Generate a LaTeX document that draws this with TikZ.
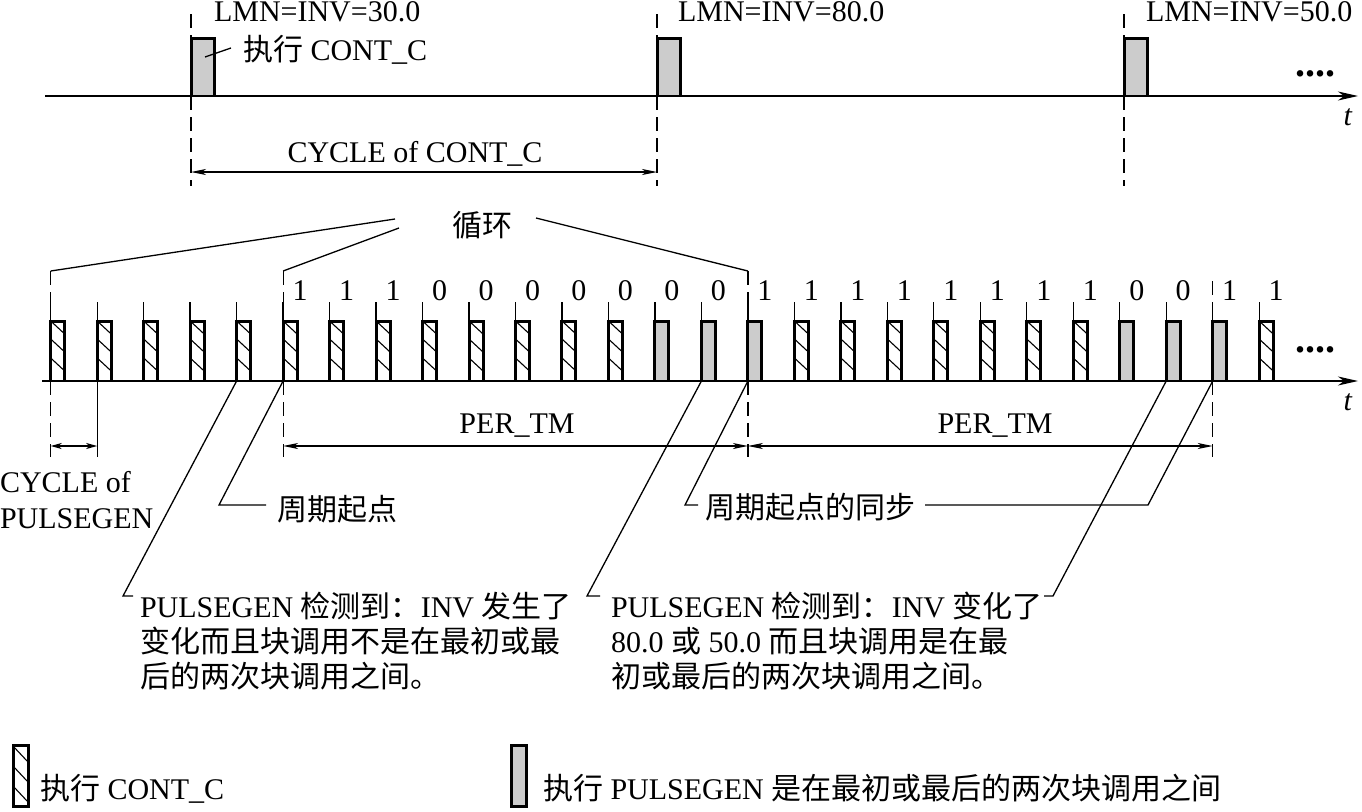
\documentclass[tikz,border=0pt]{standalone}
\usepackage{fontspec}
\setmainfont{Liberation Serif}
\newfontfamily\cjk{Noto Sans CJK SC}
\newcommand{\zh}[1]{{\cjk #1}}
\usetikzlibrary{arrows.meta}
\definecolor{pgray}{gray}{0.8}
\begin{document}
\begin{tikzpicture}[x=1pt,y=-1pt,
  font=\fontsize{30}{36}\selectfont,
  txt/.style={inner sep=0pt, outer sep=0pt, anchor=base west},
  ctxt/.style={inner sep=0pt, outer sep=0pt, anchor=base},
  dotstyle/.style={inner sep=0pt, outer sep=0pt, anchor=base, font=\fontsize{40}{40}\selectfont\bfseries},
  axisline/.style={line width=1.5pt, -{Stealth[length=20pt,width=9pt,inset=6pt]}},
  dim/.style={line width=1.2pt, {Stealth[length=15pt,width=6pt,inset=4pt]}-{Stealth[length=15pt,width=6pt,inset=4pt]}},
  smalldim/.style={line width=1.2pt, {Stealth[length=11pt,width=6pt,inset=3pt]}-{Stealth[length=11pt,width=6pt,inset=3pt]}},
  guide/.style={line width=1.2pt, dash pattern=on 14pt off 7pt},
  leadline/.style={line width=1.3pt},
  pedge/.style={line width=3pt, line join=miter},
  hatch/.style={line width=1.1pt},
]
\useasboundingbox (0,0) rectangle (1362,811);

% ---------- top timeline ----------
\foreach \n/\x in {0/191,1/657,2/1124}{
  \coordinate (q\n) at (\x,96);
  \fill[pgray] (\x,38) rectangle (\x+23,96);
  \draw[pedge] (\x,96) -- (\x,38) -- (\x+23,38) -- (\x+23,96);
  \draw[guide] (\x,14) -- (\x,38);
  \draw[guide] (\x,96) -- (\x,186);
}
\coordinate (ts) at (45,96);
\coordinate (te) at (1358,96);
\draw[axisline] (ts) -- (te);

\node[txt] (lmn0) at (214,21) {LMN=INV=30.0};
\node[txt] (lmn1) at (678,21) {LMN=INV=80.0};
\node[txt] (lmn2) at (1146,21) {LMN=INV=50.0};
\node[txt] (exec) at (243,60) {\zh{执行} CONT\_C};
\coordinate (execA) at (205,57);
\coordinate (execB) at (231,48);
\draw[leadline] (execA) -- (execB);
\node[dotstyle] (dots1) at (1315,76) {....};
\node[ctxt] (t1) at (1348,125) {\textit{t}};

\node[ctxt] (cyc) at (415,162) {CYCLE of CONT\_C};
\coordinate (cA) at (191,172);
\coordinate (cB) at (657,172);
\draw[dim] (cA) -- (cB);

% ---------- pulse train ----------
\foreach \i in {0,...,26}{
  \pgfmathsetmacro\px{50.7+46.48*\i}
  \coordinate (p\i) at (\px,381);
  \coordinate (u\i) at (\px,271);
  \coordinate (w\i) at (\px,446);
  \draw[leadline] (\px,302) -- (\px,321);
}
\foreach \i in {0,...,12,16,17,...,22,26}{
  \pgfmathsetmacro\px{50.7+46.48*\i}
  \begin{scope}
    \clip (\px,321) rectangle (\px+14,381);
    \foreach \k in {0,18,37}{ \draw[hatch] (\px,321+\k) -- ++(14,13); }
  \end{scope}
  \draw[pedge] (\px,381) -- (\px,321) -- (\px+14,321) -- (\px+14,381);
}
\foreach \i in {13,14,15,23,24,25}{
  \pgfmathsetmacro\px{50.7+46.48*\i}
  \fill[pgray] (\px,321) rectangle (\px+14,381);
  \draw[pedge] (\px,381) -- (\px,321) -- (\px+14,321) -- (\px+14,381);
}
\coordinate (bs) at (42,381);
\coordinate (be) at (1358,381);
\draw[axisline] (bs) -- (be);

\foreach \i/\d in {5/1,6/1,7/1,8/0,9/0,10/0,11/0,12/0,13/0,14/0,
                   15/1,16/1,17/1,18/1,19/1,20/1,21/1,22/1,23/0,24/0,25/1,26/1}{
  \node[ctxt] (dig\i) at (50.7+46.48*\i+17,300) {\d};
}
\node[dotstyle] (dots2) at (1315,352) {....};
\node[ctxt] (t2) at (1348,410) {\textit{t}};

% dashed guides above the train
\draw[guide] (u0) -- ++(0,31);
\draw[guide] (u5) -- ++(0,31);
\draw[guide] (u15) -- ++(0,31);
\draw[guide] (1212.7,281) -- ++(0,21);

% 循环
\node[ctxt] (xh) at (482,236) {\zh{循环}};
\coordinate (xh1) at (395,219);
\coordinate (xh2) at (399,228);
\coordinate (xh3) at (536,218);
\draw[leadline] (xh1) -- (u0);
\draw[leadline] (xh2) -- (u5);
\draw[leadline] (xh3) -- (u15);

% guides below
\draw[guide] (p0) -- ++(0,76);
\draw[leadline] (p1) -- ++(0,76);
\draw[guide] (p5) -- ++(0,76);
\draw[guide] (p15) -- ++(0,76);
\draw[guide] (p25) -- ++(0,76);
\draw[smalldim] (w0) -- (w1);
\draw[dim] (w5) -- (w15);
\draw[dim] (w15) -- (w25);
\node[ctxt] (per1) at (517,433) {PER\_TM};
\node[ctxt] (per2) at (995,433) {PER\_TM};

\node[txt] (cp1) at (0,492) {CYCLE of};
\node[txt] (cp2) at (0,528) {PULSEGEN};

% 周期起点
\node[txt] (zq) at (277,520) {\zh{周期起点}};
\coordinate (c2) at (219,505);
\coordinate (c2e) at (266,505);
\draw[leadline] (p5) -- (c2) -- (c2e);

% 周期起点的同步
\node[txt] (zt) at (705,518) {\zh{周期起点的同步}};
\coordinate (c3) at (685,505);
\coordinate (c3e) at (698,505);
\draw[leadline] (p15) -- (c3) -- (c3e);
\coordinate (c6) at (1148,505);
\coordinate (c6e) at (925,505);
\draw[leadline] (p25) -- (c6) -- (c6e);

% note 1
\node[txt] (n1a) at (140,617) {PULSEGEN \zh{检测到：}INV \zh{发生了}};
\node[txt] (n1b) at (140,652) {\zh{变化而且块调用不是在最初或最}};
\node[txt] (n1c) at (140,687) {\zh{后的两次块调用之间。}};
\coordinate (c1) at (123,596);
\coordinate (c1e) at (133,596);
\draw[leadline] (p4) -- (c1) -- (c1e);

% note 2
\node[txt] (n2a) at (611,617) {PULSEGEN \zh{检测到：}INV \zh{变化了}};
\node[txt] (n2b) at (611,652) {80.0 \zh{或} 50.0 \zh{而且块调用是在最}};
\node[txt] (n2c) at (611,687) {\zh{初或最后的两次块调用之间。}};
\coordinate (c4) at (587,596);
\coordinate (c4e) at (600,596);
\draw[leadline] (p14) -- (c4) -- (c4e);
\coordinate (c5) at (1053,596);
\coordinate (c5e) at (1044,596);
\draw[leadline] (p24) -- (c5) -- (c5e);

% legend
\begin{scope}
  \clip (13,745) rectangle (28,806);
  \foreach \k in {0,20,40}{ \draw[hatch] (13,746+\k) -- ++(15,16); }
\end{scope}
\draw[pedge] (13,745) rectangle (28,806);
\node[txt] (lg1) at (40,799) {\zh{执行} CONT\_C};
\fill[pgray] (511,745) rectangle (526,806);
\draw[pedge] (511,745) rectangle (526,806);
\node[txt] (lg2) at (543,799) {\zh{执行} PULSEGEN \zh{是在最初或最后的两次块调用之间}};
\end{tikzpicture}
\end{document}
